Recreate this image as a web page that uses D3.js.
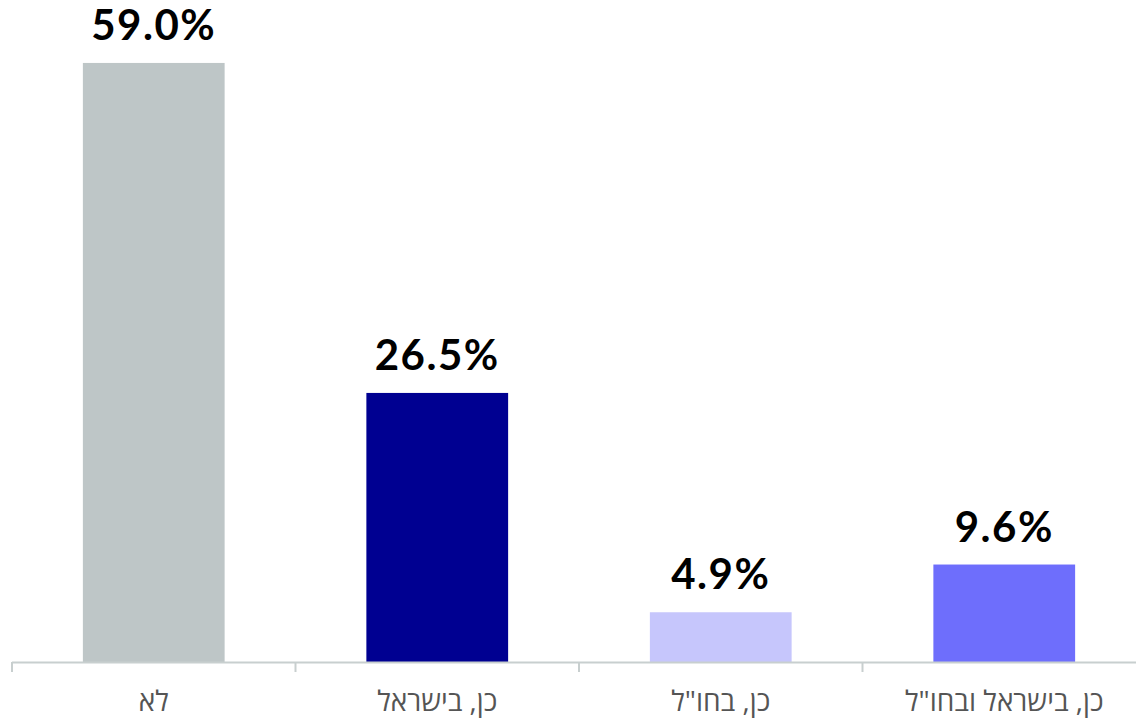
<!DOCTYPE html>
<html>
<head>
<meta charset="utf-8">
<script src="https://cdn.jsdelivr.net/npm/d3@7"></script>
<style>
  body { margin: 0; background: #fff; }
  svg { display: block; }
</style>
</head>
<body>
<div id="chart"></div>
<script>
var width = 1136;
var height = 721;

// data
var categories = ["לא", "כן, בישראל", "כן, בחו\"ל", "כן, בישראל ובחו\"ל"];
var values = [59.0, 26.5, 4.9, 9.6];
var barColors = ["#bec6c7", "#000091", "#c6c6fc", "#6e6efc"];

var baseY = 662;
var left = 12;

var x = d3.scaleBand()
    .domain(categories)
    .range([left, left + 4 * 283.5])
    .paddingInner(0.5)
    .paddingOuter(0.25);

var y = d3.scaleLinear()
    .domain([0, 65.2])
    .range([baseY, 0]);

var svg = d3.select("#chart")
    .append("svg")
    .attr("width", width)
    .attr("height", height);

svg.selectAll("rect.bar")
    .data(values)
    .enter()
    .append("rect")
    .attr("class", "bar")
    .attr("x", function(d, i) { return x(categories[i]); })
    .attr("y", function(d) { return y(d); })
    .attr("width", x.bandwidth())
    .attr("height", function(d) { return baseY - y(d); })
    .attr("fill", function(d, i) { return barColors[i]; });

// x axis: line plus ticks on band edges
var axis = svg.append("g");
axis.append("line")
    .attr("x1", left)
    .attr("x2", left + 4 * 283.5)
    .attr("y1", baseY + 0.5)
    .attr("y2", baseY + 0.5)
    .attr("stroke", "#c8cfcf")
    .attr("stroke-width", 2);

axis.selectAll("line.tick")
    .data(d3.range(5))
    .enter()
    .append("line")
    .attr("class", "tick")
    .attr("x1", function(d) { return left + d * 283.5; })
    .attr("x2", function(d) { return left + d * 283.5; })
    .attr("y1", baseY)
    .attr("y2", baseY + 10)
    .attr("stroke", "#c8cfcf")
    .attr("stroke-width", 2);

svg.selectAll("text.cat")
    .data(categories)
    .enter()
    .append("text")
    .attr("class", "cat")
    .attr("x", function(d) { return x(d) + x.bandwidth() / 2; })
    .attr("y", 711)
    .attr("text-anchor", "middle")
    .attr("direction", "rtl")
    .attr("font-family", "'Open Sans', sans-serif")
    .attr("font-size", 28)
    .attr("fill", "#555555")
    .text(function(d) { return d; });

// value labels above bars
svg.selectAll("text.val")
    .data(values)
    .enter()
    .append("text")
    .attr("class", "val")
    .attr("x", function(d, i) { return x(categories[i]) + x.bandwidth() / 2; })
    .attr("y", function(d) { return y(d) - 23; })
    .attr("text-anchor", "middle")
    .attr("font-family", "Lato, sans-serif")
    .attr("font-weight", "bold")
    .attr("font-size", 42)
    .attr("letter-spacing", 1.5)
    .attr("fill", "#000")
    .text(function(d) { return d.toFixed(1) + "%"; });
</script>
</body>
</html>
